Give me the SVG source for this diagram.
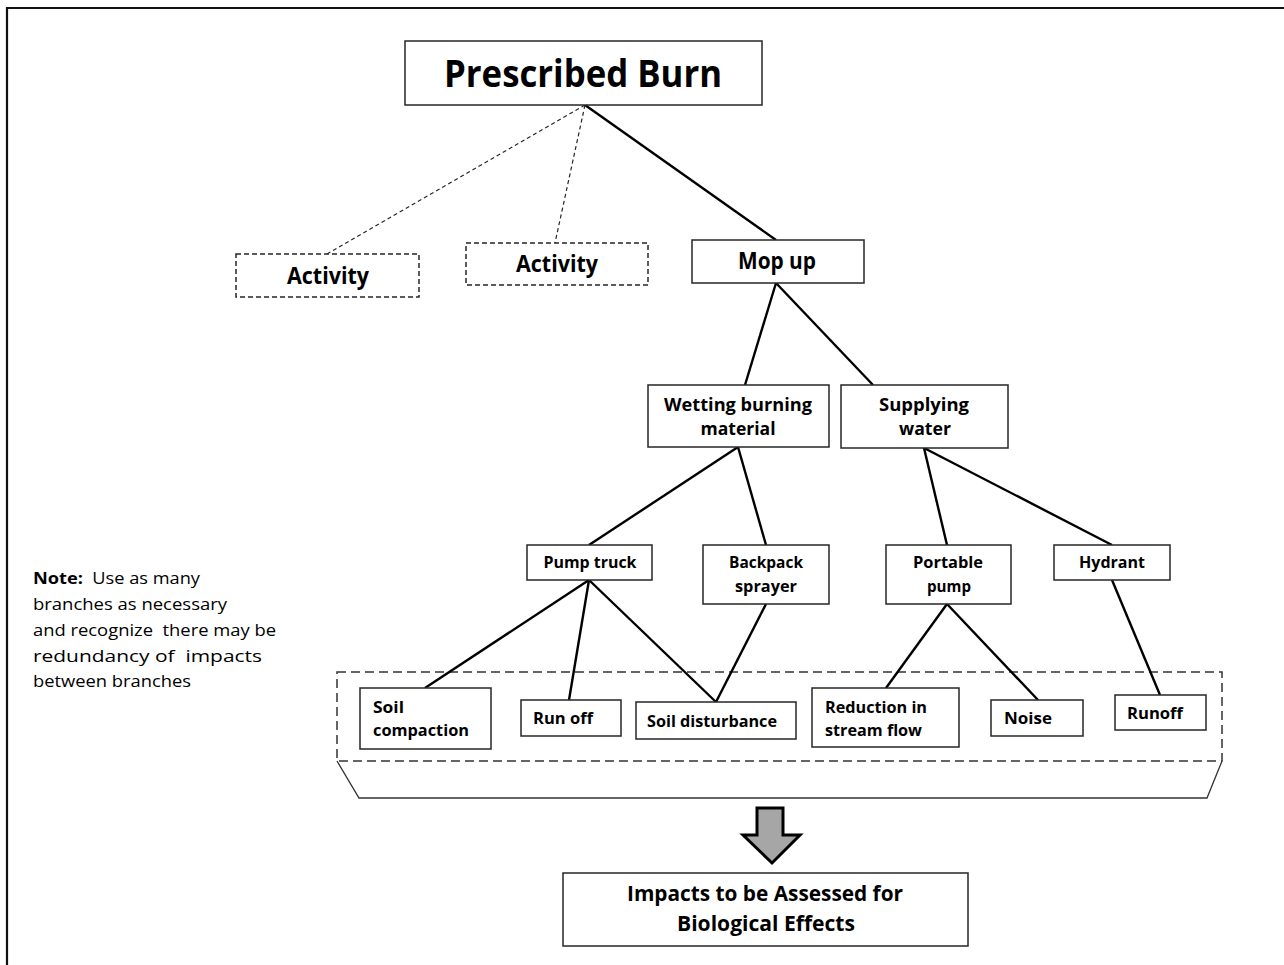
<svg xmlns="http://www.w3.org/2000/svg" width="1284" height="965" viewBox="0 0 1284 965">
  <style>
    .box { fill: #ffffff; stroke: #262626; stroke-width: 1.5; }
    .dbox { fill: #ffffff; stroke: #262626; stroke-width: 1.5; stroke-dasharray: 5 3; }
    .link { stroke: #000000; stroke-width: 2.4; fill: none; }
    .dlink { stroke: #262626; stroke-width: 1.2; stroke-dasharray: 4 3; fill: none; }
    text { font-family: "Open Sans", "Noto Sans", sans-serif; fill: #000000; }
    .b { font-weight: bold; }
    .c { text-anchor: middle; }
    .pre { white-space: pre; }
  </style>

  <!-- frame -->
  <path d="M7,965 V8 H1284" fill="none" stroke="#111" stroke-width="2.2"/>

  <!-- impact collection band -->
  <g id="impact-band">
    <rect x="337" y="672" width="885" height="89" fill="none" stroke="#333" stroke-width="1.5" stroke-dasharray="9 5"/>
    <path d="M337,761 L359,798 H1207 L1222,761" fill="none" stroke="#333" stroke-width="1.3"/>
  </g>

  <!-- connectors -->
  <g id="connectors">
    <line class="link" x1="585" y1="105" x2="776" y2="240"/>
    <line class="dlink" x1="585" y1="105" x2="327" y2="254"/>
    <line class="dlink" x1="585" y1="105" x2="555" y2="243"/>
    <line class="link" x1="776" y1="283" x2="745" y2="385"/>
    <line class="link" x1="776" y1="283" x2="873" y2="385"/>
    <line class="link" x1="738" y1="447" x2="589" y2="545"/>
    <line class="link" x1="738" y1="447" x2="766" y2="545"/>
    <line class="link" x1="924" y1="448" x2="947" y2="545"/>
    <line class="link" x1="924" y1="448" x2="1112" y2="545"/>
    <line class="link" x1="589" y1="580" x2="425" y2="688"/>
    <line class="link" x1="589" y1="580" x2="569" y2="700"/>
    <line class="link" x1="589" y1="580" x2="716" y2="702"/>
    <line class="link" x1="766" y1="604" x2="716" y2="702"/>
    <line class="link" x1="947" y1="604" x2="886" y2="688"/>
    <line class="link" x1="947" y1="604" x2="1038" y2="700"/>
    <line class="link" x1="1112" y1="580" x2="1160" y2="695"/>
  </g>

  <g id="prescribed-burn">
    <rect class="box" x="405" y="41" width="357" height="64"/>
    <text class="b c" x="583" y="87" font-size="37" textLength="278" lengthAdjust="spacingAndGlyphs">Prescribed Burn</text>
  </g>

  <g id="activity-1">
    <rect class="dbox" x="236" y="254" width="183" height="43"/>
    <text class="b c" x="328" y="284" font-size="22.5" textLength="82" lengthAdjust="spacingAndGlyphs">Activity</text>
  </g>

  <g id="activity-2">
    <rect class="dbox" x="466" y="243" width="182" height="42"/>
    <text class="b c" x="557" y="272" font-size="22.5" textLength="82" lengthAdjust="spacingAndGlyphs">Activity</text>
  </g>

  <g id="mop-up">
    <rect class="box" x="692" y="240" width="172" height="43"/>
    <text class="b c" x="777" y="269" font-size="22.5" textLength="78" lengthAdjust="spacingAndGlyphs">Mop up</text>
  </g>

  <g id="wetting-burning-material">
    <rect class="box" x="648" y="385" width="181" height="62"/>
    <text class="b c" x="738" y="411" font-size="18" textLength="148" lengthAdjust="spacingAndGlyphs">Wetting burning</text>
    <text class="b c" x="738" y="435" font-size="18" textLength="75" lengthAdjust="spacingAndGlyphs">material</text>
  </g>

  <g id="supplying-water">
    <rect class="box" x="841" y="385" width="167" height="63"/>
    <text class="b c" x="924" y="411" font-size="18" textLength="90" lengthAdjust="spacingAndGlyphs">Supplying</text>
    <text class="b c" x="925" y="435" font-size="18" textLength="52" lengthAdjust="spacingAndGlyphs">water</text>
  </g>

  <g id="pump-truck">
    <rect class="box" x="527" y="545" width="125" height="35"/>
    <text class="b c" x="590" y="568" font-size="16.5" textLength="93" lengthAdjust="spacingAndGlyphs">Pump truck</text>
  </g>

  <g id="backpack-sprayer">
    <rect class="box" x="703" y="545" width="126" height="59"/>
    <text class="b c" x="766" y="568" font-size="16.5" textLength="74" lengthAdjust="spacingAndGlyphs">Backpack</text>
    <text class="b c" x="766" y="592" font-size="16.5" textLength="62" lengthAdjust="spacingAndGlyphs">sprayer</text>
  </g>

  <g id="portable-pump">
    <rect class="box" x="886" y="545" width="125" height="59"/>
    <text class="b c" x="948" y="568" font-size="16.5" textLength="70" lengthAdjust="spacingAndGlyphs">Portable</text>
    <text class="b c" x="949" y="592" font-size="16.5" textLength="44" lengthAdjust="spacingAndGlyphs">pump</text>
  </g>

  <g id="hydrant">
    <rect class="box" x="1054" y="545" width="116" height="35"/>
    <text class="b c" x="1112" y="568" font-size="16.5" textLength="66" lengthAdjust="spacingAndGlyphs">Hydrant</text>
  </g>

  <g id="soil-compaction">
    <rect class="box" x="360" y="688" width="131" height="61"/>
    <text class="b" x="373" y="713" font-size="16.5" textLength="31" lengthAdjust="spacingAndGlyphs">Soil</text>
    <text class="b" x="373" y="736" font-size="16.5" textLength="96" lengthAdjust="spacingAndGlyphs">compaction</text>
  </g>

  <g id="run-off">
    <rect class="box" x="521" y="700" width="100" height="36"/>
    <text class="b" x="533" y="724" font-size="16.5" textLength="60" lengthAdjust="spacingAndGlyphs">Run off</text>
  </g>

  <g id="soil-disturbance">
    <rect class="box" x="636" y="702" width="160" height="37"/>
    <text class="b" x="647" y="727" font-size="16.5" textLength="130" lengthAdjust="spacingAndGlyphs">Soil disturbance</text>
  </g>

  <g id="reduction-in-stream-flow">
    <rect class="box" x="812" y="688" width="147" height="59"/>
    <text class="b" x="825" y="713" font-size="16.5" textLength="102" lengthAdjust="spacingAndGlyphs">Reduction in</text>
    <text class="b" x="825" y="736" font-size="16.5" textLength="97" lengthAdjust="spacingAndGlyphs">stream flow</text>
  </g>

  <g id="noise">
    <rect class="box" x="991" y="700" width="92" height="36"/>
    <text class="b" x="1004" y="724" font-size="16.5" textLength="48" lengthAdjust="spacingAndGlyphs">Noise</text>
  </g>

  <g id="runoff">
    <rect class="box" x="1115" y="695" width="91" height="35"/>
    <text class="b" x="1127" y="719" font-size="16.5" textLength="56" lengthAdjust="spacingAndGlyphs">Runoff</text>
  </g>

  <g id="note">
    <text class="pre" x="33" y="584" font-size="16" textLength="167" lengthAdjust="spacingAndGlyphs"><tspan class="b">Note:</tspan>  Use as many</text>
    <text class="pre" x="33" y="610" font-size="16" textLength="194" lengthAdjust="spacingAndGlyphs">branches as necessary</text>
    <text class="pre" x="33" y="636" font-size="16" textLength="243" lengthAdjust="spacingAndGlyphs">and recognize  there may be</text>
    <text class="pre" x="33" y="662" font-size="16" textLength="229" lengthAdjust="spacingAndGlyphs">redundancy of  impacts</text>
    <text class="pre" x="33" y="687" font-size="16" textLength="158" lengthAdjust="spacingAndGlyphs">between branches</text>
  </g>

  <!-- downward block arrow -->
  <g id="down-arrow">
    <path d="M757,808 H783 V835 H800 L772,863 L743,835 H757 Z" fill="#a6a6a6" stroke="#000" stroke-width="3" stroke-linejoin="miter"/>
  </g>

  <g id="impacts-assessed">
    <rect class="box" x="563" y="873" width="405" height="73"/>
    <text class="b c" x="765" y="901" font-size="21.5" textLength="276" lengthAdjust="spacingAndGlyphs">Impacts to be Assessed for</text>
    <text class="b c" x="766" y="931" font-size="21.5" textLength="178" lengthAdjust="spacingAndGlyphs">Biological Effects</text>
  </g>
</svg>
